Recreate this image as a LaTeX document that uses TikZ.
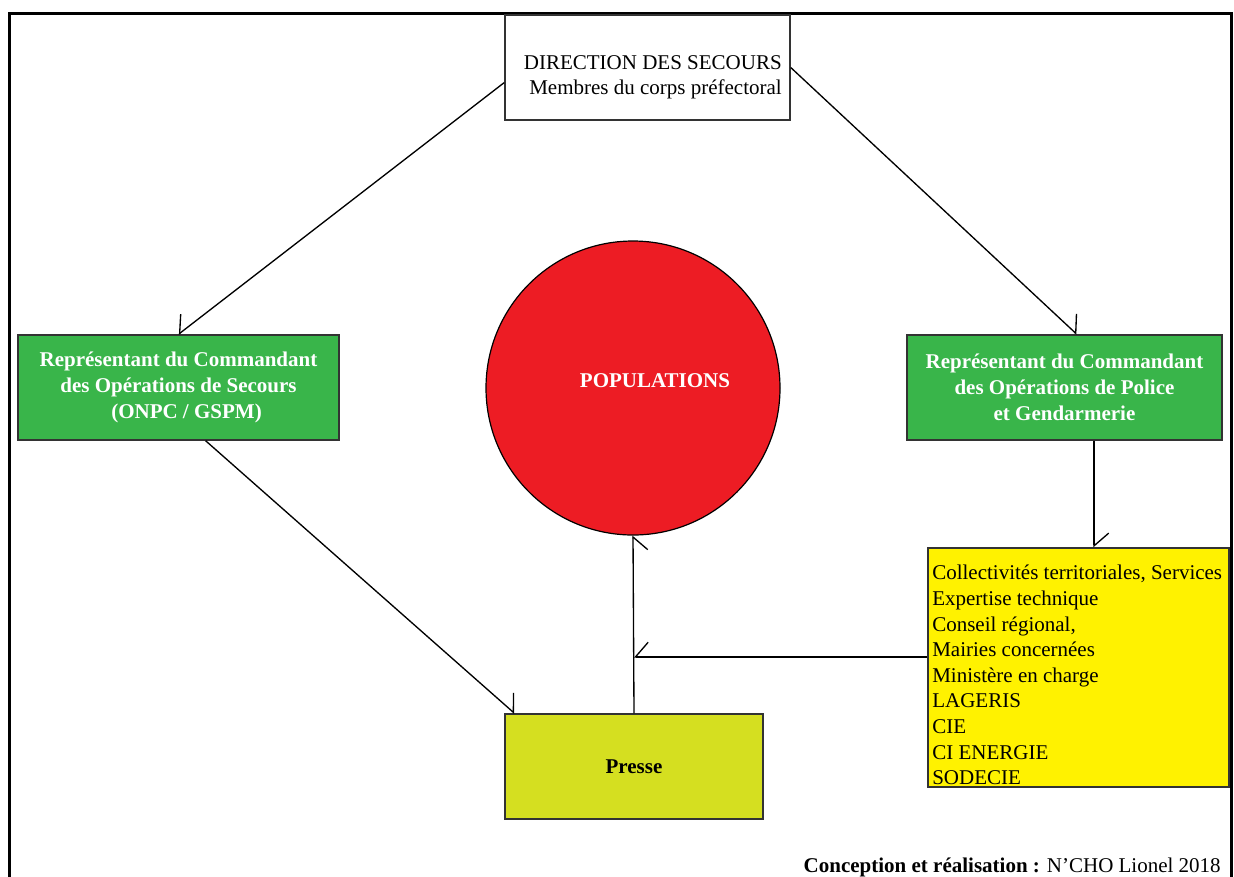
\documentclass[tikz,border=0pt]{standalone}
\usepackage{fontspec}
\setmainfont{Liberation Serif}
\usetikzlibrary{arrows.meta}
\definecolor{vertcmd}{RGB}{57,181,74}
\definecolor{rougepop}{RGB}{237,28,36}
\definecolor{jaunepresse}{RGB}{213,223,32}
\definecolor{jauneliste}{RGB}{255,242,0}

\begin{document}
\begin{tikzpicture}[x=0.75pt, y=-0.75pt,
    every node/.style={font=\fontsize{15.75}{19.2}\selectfont},
    box/.style={draw=black!80, line width=1.1pt, inner sep=2pt},
    greenbox/.style={box, fill=vertcmd, text=white, align=center, minimum height=78.75pt, font=\fontsize{15.75}{19.5}\selectfont\bfseries},
    arr/.style={line width=1pt, -{Straight Barb[harpoon, length=9.5pt, width=22pt]}},
    arrs/.style={line width=1pt, -{Straight Barb[harpoon, swap, length=9.5pt, width=22pt]}}]
    \useasboundingbox (0,0) rectangle (1234,876);

    % Cadre
    \draw[line width=2.25pt] (9.5,880) -- (9.5,13.5) -- (1231,13.5) -- (1231,880);

    % Direction
    \node[box, fill=white, minimum width=213.75pt, minimum height=78.75pt] (dir) at (647.5,67.5) {};
    \node[anchor=north east, inner sep=0pt, align=right, font=\fontsize{15.75}{18.75}\selectfont] (dirlbl) at (782,55) {DIRECTION DES SECOURS\\Membres du corps préfectoral};

    % Commandants
    \node[greenbox, minimum width=240.75pt] (cos) at (178.5,387.5) {Représentant du Commandant\\des Opérations de Secours\\\hspace*{12pt}(ONPC / GSPM)};
    \node[greenbox, minimum width=236.25pt] (cop) at (1064.5,387.5) {Représentant du Commandant\\des Opérations de Police\hspace*{6pt}\\et Gendarmerie};

    % Populations
    \node[circle, draw=black, line width=0.9pt, fill=rougepop, minimum size=220.5pt, inner sep=0pt] (pop) at (633,388) {};
    \node[text=white, font=\fontsize{15.75}{19.2}\selectfont\bfseries] (poplbl) at (655,381) {POPULATIONS};

    % Presse
    \node[box, fill=jaunepresse, minimum width=193.5pt, minimum height=78.75pt, font=\fontsize{15.75}{19.2}\selectfont\bfseries] (presse) at (634,766.5) {Presse};

    % Services techniques
    \node[box, fill=jauneliste, minimum width=225.75pt, minimum height=179.25pt] (serv) at (1078.5,667.5) {};
    \node[anchor=north west, inner sep=0pt, align=left] (servlbl) at (932,565) {Collectivités territoriales, Services\\Expertise technique\\Conseil régional,\\Mairies concernées\\Ministère en charge\\LAGERIS\\CIE\\CI ENERGIE\\SODECIE};

    % Liaisons
    \draw[arrs] (dir.186) -- (cos.north);
    \draw[arr] (dir.east) -- (cop.77);
    \draw[arr] (cos.-63) -- (presse.156);
    \draw[arr] (cop.-61.5) -- (cop.-61.5 |- serv.north);
    \draw[arrs] (presse.north) -- (pop.south);
    \draw[arrs] (serv.176) -- (presse.north |- serv.176);

    % Signature
    \node[anchor=base east, inner sep=0pt] (sign) at (1221,872) {\textbf{Conception et réalisation :} N’CHO Lionel 2018};
\end{tikzpicture}
\end{document}
